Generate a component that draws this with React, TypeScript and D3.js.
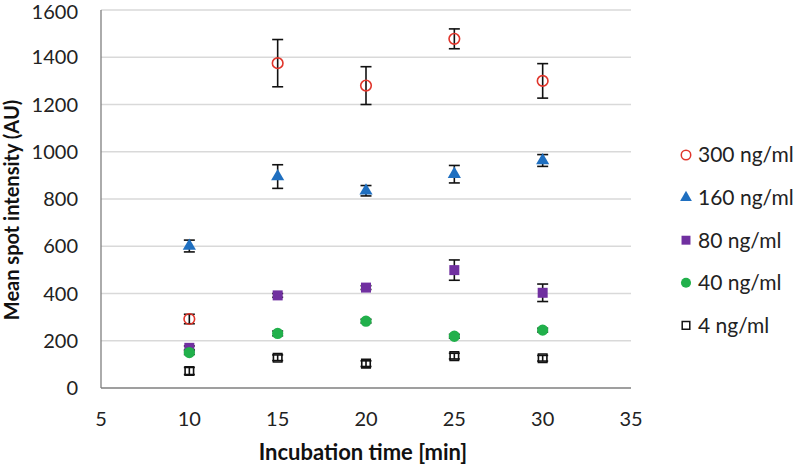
import React from 'react';
import * as d3 from 'd3';

const times = [10, 15, 20, 25, 30];

const s300 = [292, 1375, 1280, 1478, 1300];
const e300 = [20, 100, 80, 42, 73];
const s160 = [601, 895, 835, 905, 963];
const e160 = [25, 50, 22, 37, 25];
const s80 = [170, 392, 425, 499, 403];
const e80 = [8, 8, 8, 43, 37];
const s40 = [150, 231, 283, 219, 245];
const e40 = [8, 10, 8, 8, 8];
const s4 = [72, 128, 103, 135, 126];
const e4 = [15, 12, 12, 12, 12];

const xTicks = [5, 10, 15, 20, 25, 30, 35];
const yTicks = [0, 200, 400, 600, 800, 1000, 1200, 1400, 1600];

const series = [
  { name: '300 ng/ml', values: s300, errors: e300, symbol: d3.symbolCircle, size: 88, fill: 'none', stroke: '#e0352b' },
  { name: '160 ng/ml', values: s160, errors: e160, symbol: d3.symbolTriangle, size: 75, fill: '#1f6fc0', stroke: 'none' },
  { name: '80 ng/ml', values: s80, errors: e80, symbol: d3.symbolSquare, size: 100, fill: '#7030a0', stroke: 'none' },
  { name: '40 ng/ml', values: s40, errors: e40, symbol: d3.symbolCircle, size: 100, fill: '#21b04b', stroke: 'none' },
  { name: '4 ng/ml', values: s4, errors: e4, symbol: d3.symbolSquare, size: 72, fill: 'none', stroke: '#111' },
];

const font = 'Lato, "Open Sans", sans-serif';

const App = () => {
  const x = d3.scaleLinear().domain([5, 35]).range([101, 631]);
  const y = d3.scaleLinear().domain([0, 1600]).range([388, 10]);
  const cap = 5.5;

  return (
    <div style={{ position: 'absolute', left: 0, top: 0, background: 'white' }}>
      <svg width={800} height={468} style={{ display: 'block' }}>
        {/* gridlines */}
        {yTicks.filter((t) => t > 0).map((t) => (
          <line key={t} x1={x(5)} x2={x(35)} y1={y(t)} y2={y(t)} stroke="#d9d9d9" strokeWidth={1.3} />
        ))}
        {/* axes */}
        <line x1={x(5)} x2={x(5)} y1={y(0)} y2={y(1600)} stroke="#7f7f7f" strokeWidth={1.3} />
        <line x1={x(5)} x2={x(35)} y1={y(0)} y2={y(0)} stroke="#7f7f7f" strokeWidth={1.3} />

        {yTicks.map((t) => (
          <text key={t} x={78} y={y(t) + (t === 1600 ? 9 : 7)} textAnchor="end" fontFamily={font} fontSize={20} fill="#222">
            {t}
          </text>
        ))}
        {xTicks.map((t) => (
          <text key={t} x={x(t)} y={426} textAnchor="middle" fontFamily={font} fontSize={20} fill="#222">
            {t}
          </text>
        ))}

        <text x={363} y={460} textAnchor="middle" fontFamily={font} fontSize={22} fontWeight="bold" fill="#111">
          Incubation time [min]
        </text>
        <text
          transform="translate(19,210) rotate(-90)"
          textAnchor="middle"
          fontFamily={font}
          fontSize={20}
          fontWeight="bold"
          fill="#111"
        >
          Mean spot intensity (AU)
        </text>

        {/* error bars */}
        {series.map((s) =>
          s.values.map((v, i) => {
            const cx = x(times[i]);
            const top = y(v + s.errors[i]);
            const bot = y(v - s.errors[i]);
            return (
              <g key={s.name + i} stroke="#111" strokeWidth={1.6}>
                <line x1={cx} x2={cx} y1={top} y2={bot} />
                <line x1={cx - cap} x2={cx + cap} y1={top} y2={top} />
                <line x1={cx - cap} x2={cx + cap} y1={bot} y2={bot} />
              </g>
            );
          })
        )}

        {/* markers */}
        {series.map((s) =>
          s.values.map((v, i) => (
            <path
              key={'m' + s.name + i}
              d={d3.symbol().type(s.symbol).size(s.size)() || ''}
              transform={`translate(${x(times[i])},${y(v)})`}
              fill={s.fill}
              stroke={s.stroke}
              strokeWidth={1.6}
            />
          ))
        )}

        {/* legend */}
        {series.map((s, i) => {
          const ly = 155 + i * 42.6;
          return (
            <g key={'l' + s.name}>
              <path
                d={d3.symbol().type(s.symbol).size(s.size * 0.8)() || ''}
                transform={`translate(686,${ly})`}
                fill={s.fill}
                stroke={s.stroke}
                strokeWidth={1.5}
              />
              <text x={698} y={ly} dy="0.35em" fontFamily={font} fontSize={21} fill="#222">
                {s.name}
              </text>
            </g>
          );
        })}
      </svg>
    </div>
  );
};

export default App;
